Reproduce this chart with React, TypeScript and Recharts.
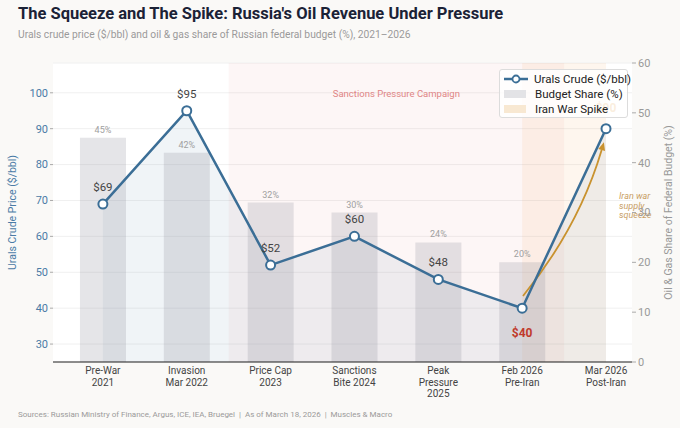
import React from 'react';
import {
  ComposedChart,
  Bar,
  Line,
  Area,
  XAxis,
  YAxis,
  CartesianGrid,
  ReferenceArea,
  ReferenceLine,
  ReferenceDot,
  LabelList,
} from 'recharts';

const categories = [
  'Pre-War\n2021',
  'Invasion\nMar 2022',
  'Price Cap\n2023',
  'Sanctions\nBite 2024',
  'Peak\nPressure\n2025',
  'Feb 2026\nPre-Iran',
  'Mar 2026\nPost-Iran',
];
const uralsPrice = [69, 95, 52, 60, 48, 40, 90];
const budgetShare: (number | null)[] = [45, 42, 32, 30, 24, 20, null];
const priceTicks = [30, 40, 50, 60, 70, 80, 90, 100];
const shareTicks = [0, 10, 20, 30, 40, 50, 60];
const categoryIndex = [0, 1, 2, 3, 4, 5, 6];

// shaded periods, in category units
const sanctionsSpan = [1.5, 5.5];
const iranSpan = [5, 6];
// arrow for the Iran squeeze note (x in category units, y in $/bbl)
const arrowFrom = { x: 5.01, y: 43.4 };
const arrowTo = { x: 5.975, y: 86.2 };
const noteAt = { x: 6.155, y: 70.3 };

const data = categories.map((label, i) => ({
  idx: categoryIndex[i],
  label,
  price: uralsPrice[i],
  share: budgetShare[i],
}));

const BLUE = '#3b6e96';
const GOLD = '#c9922e';
const FONT = 'Roboto, "Noto Sans", sans-serif';

const CategoryTick = ({ x, y, payload }: any) => {
  const lines = categories[payload.value].split('\n');
  return (
    <text x={x} y={y} textAnchor="middle" fill="#444" fontSize={10}>
      {lines.map((l, k) => (
        <tspan key={k} x={x} dy={k === 0 ? 6 : 11.5}>
          {l}
        </tspan>
      ))}
    </text>
  );
};

const pos = (props: any) => {
  const vb = props.viewBox || {};
  return {
    x: props.x ?? vb.x,
    y: props.y ?? vb.y,
    width: props.width ?? vb.width ?? 0,
  };
};

const ShareLabel = (props: any) => {
  if (props.value == null) return null;
  const { x, y, width } = pos(props);
  return (
    <text x={x + width / 2} y={y - 5} textAnchor="middle" fill="#a0a0a0" fontSize={9}>
      {props.value}%
    </text>
  );
};

const PriceLabel = (props: any) => {
  const { x, y } = pos(props);
  const i = props.index;
  if (i === 5) {
    return (
      <text x={x} y={y + 29} textAnchor="middle" fill="#c0392b" fontSize={12} fontWeight={700}>
        ${props.value}
      </text>
    );
  }
  if (i === 6) {
    return (
      <text x={x} y={y - 17} textAnchor="middle" fill="#e0a048" fontSize={12} fontWeight={700}>
        ${props.value}
      </text>
    );
  }
  return (
    <text x={x} y={y - 13} textAnchor="middle" fill="#444" fontSize={11.5}>
      ${props.value}
    </text>
  );
};

const CurvedArrow = (props: any) => {
  const { x1, y1, x2, y2 } = props;
  const dx = x2 - x1;
  const dy = y2 - y1;
  const len = Math.hypot(dx, dy);
  const cx = (x1 + x2) / 2 + (-dy / len) * len * 0.1;
  const cy = (y1 + y2) / 2 + (dx / len) * len * 0.1;
  const tx = x2 - cx;
  const ty = y2 - cy;
  const tl = Math.hypot(tx, ty);
  const ux = tx / tl;
  const uy = ty / tl;
  const hl = 8;
  const hw = 3.5;
  const bx = x2 - ux * hl;
  const by = y2 - uy * hl;
  return (
    <g>
      <path
        d={`M${x1},${y1} Q${cx},${cy} ${bx},${by}`}
        fill="none"
        stroke={GOLD}
        strokeWidth={1.8}
      />
      <polygon
        points={`${x2},${y2} ${bx - uy * hw},${by + ux * hw} ${bx + uy * hw},${by - ux * hw}`}
        fill={GOLD}
      />
    </g>
  );
};

const NoteText = (props: any) => {
  const { cx, cy } = props;
  return (
    <text x={cx} y={cy} fill="#c9a066" fontSize={9} fontStyle="italic">
      <tspan x={cx} dy={0}>Iran war</tspan>
      <tspan x={cx} dy={9.5}>supply</tspan>
      <tspan x={cx} dy={9.5}>squeeze</tspan>
    </text>
  );
};

const PriceDot = (props: any) => {
  const { cx, cy, index } = props;
  return <circle key={index} cx={cx} cy={cy} r={4.5} fill="#fff" stroke={BLUE} strokeWidth={2} />;
};

const legendRow: React.CSSProperties = {
  display: 'flex',
  alignItems: 'center',
  whiteSpace: 'nowrap',
  height: 15,
};

const LegendBox = () => (
  <div
    style={{
      position: 'absolute',
      left: 499,
      top: 69,
      width: 129,
      height: 49,
      boxSizing: 'border-box',
      border: '1px solid #dcdcdc',
      borderRadius: 3,
      background: 'rgba(255,255,255,0.82)',
      fontSize: 11.5,
      color: '#222',
      zIndex: 2,
      padding: '1px 0 0 3px',
    }}
  >
    <div style={legendRow}>
      <svg width={26} height={10} style={{ marginRight: 5, flex: 'none' }}>
        <line x1={1} y1={5} x2={25} y2={5} stroke={BLUE} strokeWidth={2.5} />
        <circle cx={13} cy={5} r={3.5} fill="#fff" stroke={BLUE} strokeWidth={1.8} />
      </svg>
      Urals Crude ($/bbl)
    </div>
    <div style={legendRow}>
      <span style={{ width: 22, height: 8, background: '#e3e3e6', margin: '0 9px 0 1px', flex: 'none' }} />
      Budget Share (%)
    </div>
    <div style={legendRow}>
      <span style={{ width: 22, height: 8, background: '#f8e8d2', margin: '0 9px 0 1px', flex: 'none' }} />
      Iran War Spike
    </div>
  </div>
);

export default function App() {
  return (
    <div
      style={{
        position: 'absolute',
        left: 0,
        top: 0,
        width: 680,
        height: 428,
        background: '#faf9f7',
        fontFamily: FONT,
        overflow: 'hidden',
      }}
    >
      <div
        style={{
          position: 'absolute',
          left: 18,
          top: 4,
          fontSize: 16.5,
          fontWeight: 700,
          color: '#1b2236',
          whiteSpace: 'nowrap',
        }}
      >
        The Squeeze and The Spike: Russia's Oil Revenue Under Pressure
      </div>
      <div
        style={{
          position: 'absolute',
          left: 18,
          top: 28,
          fontSize: 10.25,
          color: '#9a9a9a',
          whiteSpace: 'nowrap',
        }}
      >
        Urals crude price ($/bbl) and oil &amp; gas share of Russian federal budget (%), 2021–2026
      </div>

      <div style={{ position: 'absolute', left: 0, top: 0 }}>
        <ComposedChart
          width={680}
          height={428}
          data={data}
          margin={{ top: 63, right: 0, bottom: 16, left: 0 }}
        >
          <CartesianGrid
            yAxisId="left"
            vertical={false}
            stroke="#f0f0f0"
            fill="#ffffff"
          />
          <ReferenceArea
            yAxisId="left"
            x1={sanctionsSpan[0]}
            x2={sanctionsSpan[1]}
            fill="#e05050"
            fillOpacity={0.05}
            stroke="none"
            label={{
              value: 'Sanctions Pressure Campaign',
              position: 'insideTop',
              offset: 27,
              fill: '#e08585',
              fontSize: 9.5,
            }}
          />
          <ReferenceArea
            yAxisId="left"
            x1={iranSpan[0]}
            x2={iranSpan[1]}
            fill="#f0a040"
            fillOpacity={0.09}
            stroke="none"
          />
          <XAxis
            type="number"
            dataKey="idx"
            domain={[-0.595, 6.31]}
            ticks={categoryIndex}
            allowDataOverflow
            interval={0}
            height={50}
            tick={<CategoryTick />}
            tickLine={false}
            tickSize={4}
            tickMargin={2}
            axisLine={{ stroke: '#222', strokeWidth: 1.2 }}
          />
          <YAxis
            yAxisId="left"
            orientation="left"
            width={53}
            domain={[25, 108.3]}
            ticks={priceTicks}
            allowDataOverflow
            axisLine={false}
            tickLine={{ stroke: '#aaa' }}
            tickSize={3}
            tickMargin={2}
            tick={{ fill: '#4a7ba6', fontSize: 11 }}
            label={{
              value: 'Urals Crude Price ($/bbl)',
              angle: -90,
              position: 'insideLeft',
              offset: 12,
              style: { textAnchor: 'middle', fill: '#4a7ba6', fontSize: 10.5 },
            }}
          />
          <YAxis
            yAxisId="right"
            orientation="right"
            width={48}
            domain={[0, 60]}
            ticks={shareTicks}
            allowDataOverflow
            axisLine={false}
            tickLine={{ stroke: '#aaa' }}
            tickSize={4}
            tickMargin={2}
            tick={{ fill: '#999', fontSize: 11 }}
            label={{
              value: 'Oil & Gas Share of Federal Budget (%)',
              angle: -90,
              position: 'insideRight',
              offset: 12,
              style: { textAnchor: 'middle', fill: '#999', fontSize: 10.5 },
            }}
          />
          <Bar
            yAxisId="right"
            dataKey="share"
            barSize={46}
            fill="#8a8a95"
            fillOpacity={0.22}
            isAnimationActive={false}
          >
            <LabelList dataKey="share" content={<ShareLabel />} />
          </Bar>
          <Area
            yAxisId="left"
            type="linear"
            dataKey="price"
            stroke="none"
            fill={BLUE}
            fillOpacity={0.08}
            dot={false}
            activeDot={false}
            isAnimationActive={false}
          />
          <ReferenceLine
            yAxisId="left"
            segment={[arrowFrom, arrowTo]}
            stroke={GOLD}
            shape={<CurvedArrow />}
          />
          <ReferenceDot
            yAxisId="left"
            x={noteAt.x}
            y={noteAt.y}
            r={0}
            ifOverflow="visible"
            shape={<NoteText />}
          />
          <Line
            yAxisId="left"
            type="linear"
            dataKey="price"
            stroke={BLUE}
            strokeWidth={2.5}
            dot={<PriceDot />}
            activeDot={false}
            isAnimationActive={false}
          >
            <LabelList dataKey="price" content={<PriceLabel />} />
          </Line>
        </ComposedChart>
      </div>

      <LegendBox />

      <div
        style={{
          position: 'absolute',
          left: 18,
          top: 410,
          fontSize: 8,
          color: '#9a9a9a',
          whiteSpace: 'nowrap',
        }}
      >
        Sources: Russian Ministry of Finance, Argus, ICE, IEA, Bruegel&nbsp; |&nbsp; As of March 18, 2026&nbsp; |&nbsp; Muscles &amp; Macro
      </div>
    </div>
  );
}
